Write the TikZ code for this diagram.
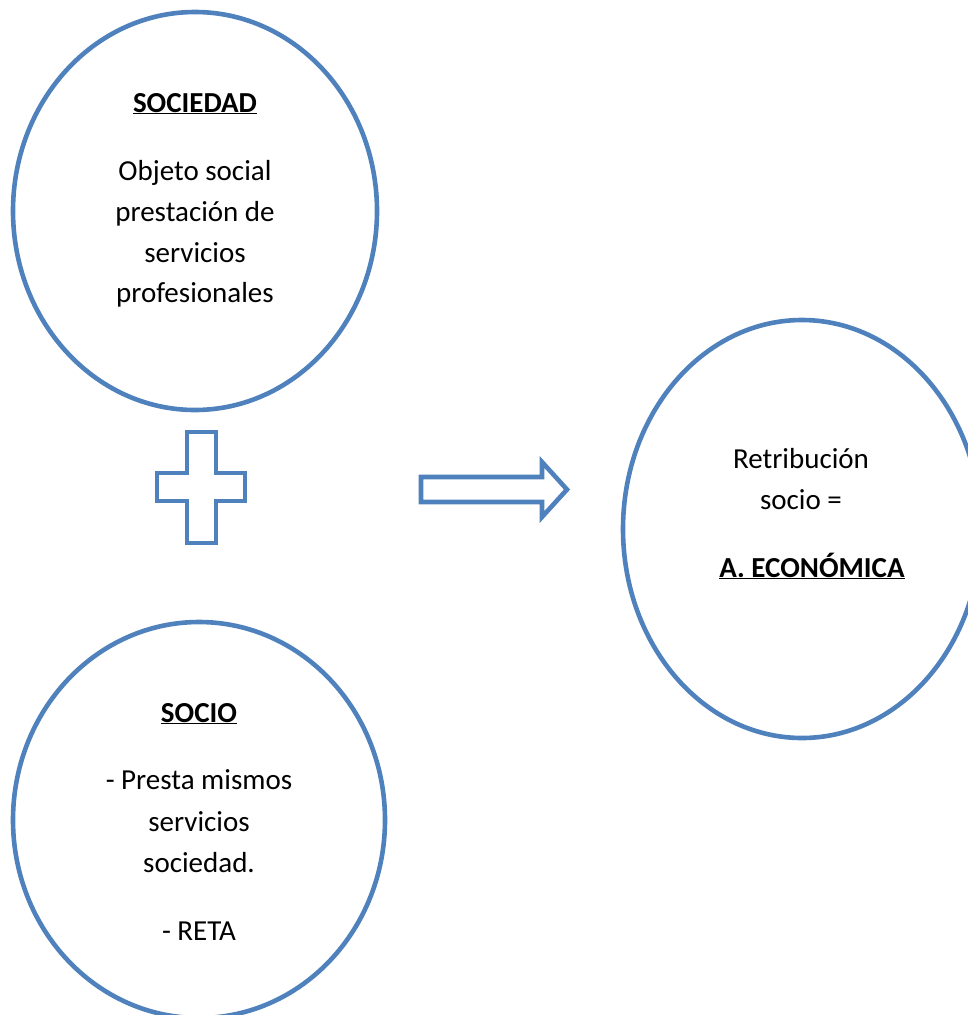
\documentclass[tikz,border=0pt]{standalone}
\usepackage{fontspec}
\setmainfont{Carlito}
\usepackage{xcolor}
\definecolor{wordAzul}{HTML}{4F81BD}
\usetikzlibrary{shapes.geometric}
\tikzset{
  %% ── Óvalos ───────────────────────────────────────────────────────────
  %% Los tres óvalos llevan el mismo trazo azul; el tamaño va en el nodo.
  circulo/.style = {ellipse, draw=wordAzul, line width=4.6pt, inner sep=0pt},
  %%
  %% ── Formas ───────────────────────────────────────────────────────────
  forma/.style   = {draw=wordAzul, line width=4.6pt, line join=miter},
  %%
  %% ── Texto ────────────────────────────────────────────────────────────
  texto/.style   = {anchor=base, inner sep=0pt, font=\fontsize{29}{40}\selectfont},
  titulo/.style  = {texto, font=\fontsize{29}{40}\selectfont\bfseries},
}

\begin{document}
\begin{tikzpicture}[x=1pt, y=-1pt]
\useasboundingbox (0,0) rectangle (968,1015);
\clip (0,0) rectangle (968,1015);

\node[circulo, minimum width=364pt, minimum height=398pt] (sociedad) at (195,211) {};
\node[circulo, minimum width=372pt, minimum height=396pt] (socio)    at (199,820) {};
\node[circulo, minimum width=358pt, minimum height=418pt] (retrib)   at (802,529) {};

\node[titulo] (tSociedad) at (195,112) {\underline{SOCIEDAD}};
\foreach \t/\y [count=\i] in {Objeto social/180, prestación de/221,
                              servicios/262, profesionales/302}
  \node[texto] (sociedad\i) at (195,\y) {\t};

\node[titulo] (tSocio) at (199,722) {\underline{SOCIO}};
\foreach \t/\y [count=\i] in {- Presta mismos/789, servicios/831,
                              sociedad./872, - RETA/940}
  \node[texto] (socio\i) at (199,\y) {\t};

\node[texto] (retrib1) at (801,468) {Retribución};
\node[texto] (retrib2) at (801,509) {socio =};
\node[titulo] (tRetrib) at (812,577) {\underline{A. ECONÓMICA}};

% cruz
\draw[forma] (187,432) -- (216,432) -- (216,473) -- (245,473) -- (245,501)
  -- (216,501) -- (216,543) -- (187,543) -- (187,501) -- (157,501)
  -- (157,473) -- (187,473) -- cycle;

% flecha de bloque
\draw[forma] (421,477) -- (542,477) -- (542,462) -- (567,489.5) -- (542,517)
  -- (542,502) -- (421,502) -- cycle;

\end{tikzpicture}
\end{document}
